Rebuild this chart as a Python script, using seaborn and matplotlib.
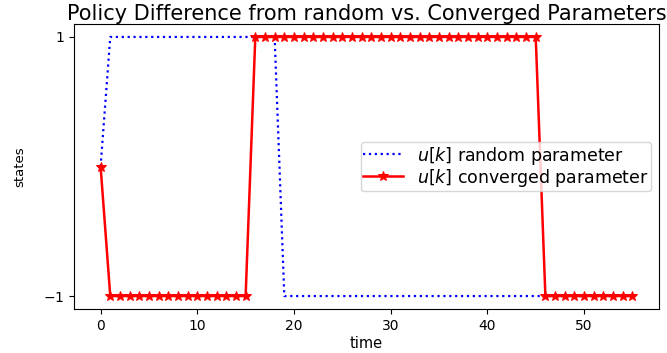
import matplotlib
matplotlib.use("Agg")
import matplotlib.pyplot as plt
import seaborn as sns
import numpy as np

time = list(range(56))
u_random = [0] + [1] * 18 + [-1] * 37
u_converged = [0] + [-1] * 15 + [1] * 30 + [-1] * 10

fig = plt.figure(figsize=(6.67, 3.53), dpi=100)
ax = fig.add_axes([74 / 667, 1 - 309 / 353, (659 - 74) / 667, (309 - 24) / 353])

sns.lineplot(x=time, y=u_random, ax=ax, color="blue", linestyle=":", linewidth=1.6,
             label=r"$u[k]$ random parameter")
sns.lineplot(x=time, y=u_converged, ax=ax, color="red", linewidth=1.8, marker="*",
             markersize=7, markeredgecolor="red", label=r"$u[k]$ converged parameter")

ax.set_yticks([-1, 1])
ax.set_yticklabels(["$-1$", "$1$"])
ax.set_xticks([0, 10, 20, 30, 40, 50])
ax.tick_params(labelsize=10)
ax.set_xlabel("time", fontsize=10.5, labelpad=2)
ax.set_ylabel("states", fontsize=9.5, labelpad=12)
ax.set_title("Policy Difference from random vs. Converged Parameters", fontsize=15, pad=3)
ax.legend(loc="center right", fontsize=12.5, borderpad=0.15, labelspacing=0.0,
          handlelength=2.3, handletextpad=0.8, borderaxespad=0.45)

fig.savefig("out.png", dpi=100)
